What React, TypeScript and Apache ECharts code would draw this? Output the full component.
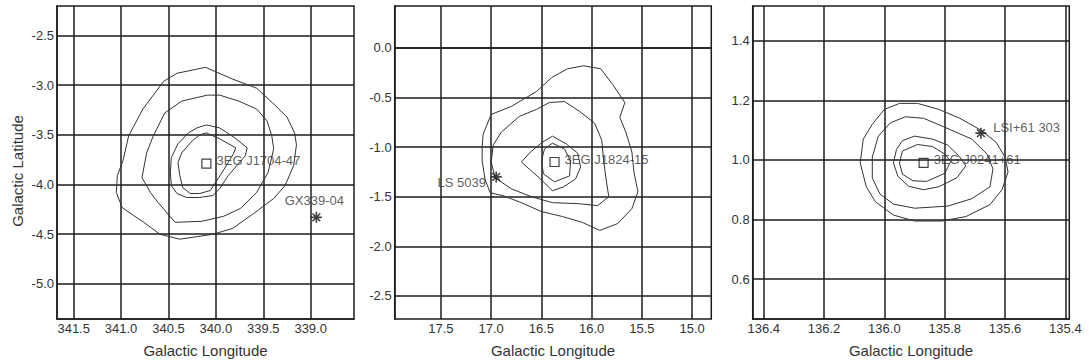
import React, { useEffect, useRef } from "react";
import * as echarts from "echarts";

// ---- axis extents (data units) ----
const p1LonRange = [338.543, 341.676];
const p1LatRange = [-5.353, -2.203];
const p2LonRange = [14.81, 17.96];
const p2LatRange = [-2.733, 0.423];
const p3LonRange = [135.387, 136.4365];
const p3LatRange = [0.466, 1.517];

// ---- tick labels ----
const p1LonTicks = [341.5, 341.0, 340.5, 340.0, 339.5, 339.0];
const p1LatTicks = [-2.5, -3.0, -3.5, -4.0, -4.5, -5.0];
const p2LonTicks = [17.5, 17.0, 16.5, 16.0, 15.5, 15.0];
const p2LatTicks = [0.0, -0.5, -1.0, -1.5, -2.0, -2.5];
const p3LonTicks = [136.4, 136.2, 136.0, 135.8, 135.6, 135.4];
const p3LatTicks = [1.4, 1.2, 1.0, 0.8, 0.6];

// ---- panel 1 contours [lon, lat] ----
const p1Contour1 = [
  [340.11, -2.82], [339.82, -2.94], [339.57, -3.03], [339.40, -3.18], [339.25, -3.32],
  [339.17, -3.48], [339.15, -3.60], [339.18, -3.81], [339.27, -4.01], [339.39, -4.14],
  [339.60, -4.29], [339.82, -4.44], [340.03, -4.50], [340.38, -4.55], [340.59, -4.50],
  [340.76, -4.38], [340.87, -4.31], [340.99, -4.23], [341.05, -4.08], [341.04, -3.91],
  [340.98, -3.76], [340.92, -3.51], [340.77, -3.24], [340.55, -2.96], [340.41, -2.88],
  [340.11, -2.82],
];
const p1Contour2 = [
  [340.09, -3.10], [340.36, -3.16], [340.54, -3.28], [340.66, -3.51], [340.73, -3.68],
  [340.78, -3.93], [340.69, -4.08], [340.61, -4.18], [340.43, -4.38], [340.15, -4.37],
  [339.92, -4.32], [339.74, -4.24], [339.57, -4.08], [339.45, -3.88], [339.39, -3.64],
  [339.41, -3.51], [339.46, -3.36], [339.57, -3.24], [339.76, -3.16], [339.96, -3.10],
  [340.09, -3.10],
];
const p1Contour3 = [
  [340.10, -3.40], [339.96, -3.43], [339.80, -3.53], [339.67, -3.63], [339.69, -3.71],
  [339.78, -3.81], [339.87, -3.91], [339.96, -4.04], [340.03, -4.11], [340.17, -4.13],
  [340.31, -4.13], [340.41, -4.09], [340.47, -4.01], [340.48, -3.88], [340.47, -3.73],
  [340.40, -3.59], [340.29, -3.48], [340.20, -3.43], [340.10, -3.40],
];
const p1Contour4 = [
  [340.10, -3.48], [339.96, -3.54], [339.79, -3.63], [339.82, -3.70], [339.89, -3.81],
  [339.97, -3.93], [340.06, -4.06], [340.17, -4.09], [340.27, -4.09], [340.35, -4.03],
  [340.38, -3.91], [340.40, -3.78], [340.36, -3.68], [340.25, -3.56], [340.17, -3.50],
  [340.10, -3.48],
];

// ---- panel 2 contours ----
const p2Contour1 = [
  [17.00, -0.67], [16.80, -0.59], [16.55, -0.44], [16.40, -0.30], [16.24, -0.21],
  [16.08, -0.18], [15.91, -0.21], [15.79, -0.37], [15.67, -0.55], [15.72, -0.70],
  [15.66, -0.85], [15.60, -1.05], [15.58, -1.25], [15.54, -1.45], [15.60, -1.62],
  [15.74, -1.77], [15.92, -1.84], [16.09, -1.76], [16.29, -1.70], [16.50, -1.65],
  [16.70, -1.56], [16.88, -1.49], [17.01, -1.46], [17.06, -1.33], [17.09, -1.14],
  [17.09, -1.00], [17.08, -0.87], [17.00, -0.67],
];
const p2Contour2 = [
  [16.98, -0.98], [16.90, -0.85], [16.72, -0.69], [16.55, -0.62], [16.42, -0.55],
  [16.27, -0.54], [16.12, -0.64], [15.97, -0.76], [15.90, -0.93], [15.88, -1.15],
  [15.85, -1.37], [15.83, -1.50], [15.94, -1.59], [16.13, -1.57], [16.39, -1.56],
  [16.60, -1.50], [16.80, -1.42], [16.96, -1.31], [17.00, -1.15], [16.98, -0.98],
];
const p2Contour3 = [
  [16.39, -0.89], [16.25, -0.97], [16.14, -1.06], [16.11, -1.20], [16.16, -1.32],
  [16.28, -1.40], [16.39, -1.44], [16.49, -1.34], [16.60, -1.24], [16.70, -1.15],
  [16.61, -1.05], [16.49, -0.95], [16.39, -0.89],
];
const p2Contour4 = [
  [16.39, -0.96], [16.27, -1.02], [16.21, -1.14], [16.22, -1.29], [16.37, -1.35],
  [16.48, -1.27], [16.50, -1.14], [16.47, -1.02], [16.39, -0.96],
];

// ---- panel 3 contours ----
const p3Contour1 = [
  [136.07, 1.07], [136.04, 1.12], [136.00, 1.17], [135.95, 1.19], [135.89, 1.19],
  [135.82, 1.17], [135.75, 1.14], [135.68, 1.10], [135.63, 1.06], [135.60, 1.01],
  [135.59, 0.96], [135.61, 0.90], [135.65, 0.85], [135.73, 0.81], [135.81, 0.795],
  [135.90, 0.795], [135.97, 0.815], [136.03, 0.86], [136.06, 0.91], [136.08, 0.99],
  [136.07, 1.07],
];
const p3Contour2 = [
  [136.04, 1.01], [136.02, 1.08], [135.98, 1.125], [135.93, 1.145], [135.87, 1.14],
  [135.80, 1.11], [135.71, 1.07], [135.66, 1.02], [135.64, 0.97], [135.65, 0.91],
  [135.71, 0.87], [135.79, 0.845], [135.90, 0.838], [135.97, 0.852], [136.015, 0.886],
  [136.04, 0.94], [136.04, 1.01],
];
const p3Contour3 = [
  [135.90, 1.08], [135.84, 1.07], [135.79, 1.05], [135.75, 1.01], [135.73, 0.98],
  [135.76, 0.94], [135.82, 0.91], [135.87, 0.90], [135.92, 0.912], [135.955, 0.945],
  [135.97, 0.99], [135.96, 1.035], [135.94, 1.065], [135.90, 1.08],
];
const p3Contour4 = [
  [135.89, 1.052], [135.84, 1.045], [135.80, 1.02], [135.78, 0.995], [135.80, 0.955],
  [135.86, 0.928], [135.905, 0.93], [135.94, 0.952], [135.95, 0.99], [135.94, 1.03],
  [135.89, 1.052],
];

// ---- sources ----
const egretNames = ["3EG J1704-47", "3EG J1824-15", "3EG J0241+61"];
const egretPositions = [
  [340.10, -3.79],
  [16.37, -1.15],
  [135.87, 0.99],
];
const counterpartNames = ["GX339-04", "LS 5039", "LSI+61 303"];
const counterpartPositions = [
  [338.94, -4.33],
  [16.95, -1.30],
  [135.68, 1.09],
];

const FONT = "Liberation Sans, Arial, sans-serif";
const GRID_COLOR = "#1c1c1c";
const TEXT_COLOR = "#333";
const STAR =
  "path://M5 0 L5 10 M0 5 L10 5 M1.5 1.5 L8.5 8.5 M1.5 8.5 L8.5 1.5";

function makeX(idx: number, range: number[], ticks: number[], showName: boolean) {
  return {
    type: "value",
    gridIndex: idx,
    min: range[0],
    max: range[1],
    inverse: true,
    splitNumber: 5,
    name: showName ? "Galactic Longitude" : "",
    nameLocation: "middle",
    nameGap: 24,
    nameTextStyle: { fontFamily: FONT, fontSize: 15, color: TEXT_COLOR },
    axisLine: { show: true, lineStyle: { color: GRID_COLOR, width: 1.5 } },
    axisTick: { show: false, customValues: ticks },
    axisLabel: {
      customValues: ticks,
      margin: 3,
      fontFamily: FONT,
      fontSize: 13,
      color: TEXT_COLOR,
      formatter: (v: number) => v.toFixed(1),
    },
    splitLine: { show: true, lineStyle: { color: GRID_COLOR, width: 1.5 } },
  };
}

function makeY(idx: number, range: number[], ticks: number[], showName: boolean) {
  return {
    type: "value",
    gridIndex: idx,
    min: range[0],
    max: range[1],
    splitNumber: 5,
    name: showName ? "Galactic Latitude" : "",
    nameLocation: "middle",
    nameGap: 32,
    nameTextStyle: {
      fontFamily: FONT,
      fontSize: 15,
      color: TEXT_COLOR,
      padding: [0, 17, 0, 0],
    },
    axisLine: { show: true, lineStyle: { color: GRID_COLOR, width: 1.5 } },
    axisTick: { show: false, customValues: ticks },
    axisLabel: {
      customValues: ticks,
      margin: 3,
      fontFamily: FONT,
      fontSize: 13,
      color: TEXT_COLOR,
      formatter: (v: number) => v.toFixed(1),
    },
    splitLine: { show: true, lineStyle: { color: GRID_COLOR, width: 1.5 } },
  };
}

function contour(idx: number, data: number[][]) {
  return {
    type: "line",
    xAxisIndex: idx,
    yAxisIndex: idx,
    data,
    showSymbol: false,
    symbol: "none",
    silent: true,
    lineStyle: { color: "#333", width: 1 },
    z: 3,
  };
}

export default function App() {
  const ref = useRef<HTMLDivElement>(null);
  useEffect(() => {
    if (!ref.current) return;
    const chart = echarts.init(ref.current, undefined, { renderer: "svg" });
    const labelStyle = { fontFamily: FONT, fontSize: 13, color: TEXT_COLOR };
    const counterpartLabel = [
      { position: "top", distance: 4, offset: [-2, 0] },
      { position: "left", distance: 4, offset: [0, 6] },
      { position: "right", distance: 6, offset: [0, -6] },
    ];
    const series: any[] = [
      contour(0, p1Contour1), contour(0, p1Contour2), contour(0, p1Contour3), contour(0, p1Contour4),
      contour(1, p2Contour1), contour(1, p2Contour2), contour(1, p2Contour3), contour(1, p2Contour4),
      contour(2, p3Contour1), contour(2, p3Contour2), contour(2, p3Contour3), contour(2, p3Contour4),
    ];
    for (let i = 0; i < 3; i++) {
      series.push({
        type: "scatter",
        xAxisIndex: i,
        yAxisIndex: i,
        symbol: "rect",
        symbolSize: 9,
        itemStyle: { color: "rgba(0,0,0,0)", borderColor: "#111", borderWidth: 1.2 },
        data: [{ value: egretPositions[i], name: egretNames[i] }],
        label: {
          show: true,
          formatter: "{b}",
          position: "right",
          distance: 5,
          offset: [0, -3],
          ...labelStyle,
        },
        z: 5,
      });
      series.push({
        type: "scatter",
        xAxisIndex: i,
        yAxisIndex: i,
        symbol: STAR,
        symbolSize: 11,
        itemStyle: { color: "rgba(0,0,0,0)", borderColor: "#111", borderWidth: 1.6 },
        data: [{ value: counterpartPositions[i], name: counterpartNames[i] }],
        label: {
          show: true,
          formatter: "{b}",
          ...counterpartLabel[i],
          ...labelStyle,
        },
        z: 5,
      });
    }
    chart.setOption({
      animation: false,
      backgroundColor: "#fff",
      grid: [
        { left: 57, top: 6, width: 297, height: 315, show: true, borderColor: GRID_COLOR, borderWidth: 1.5 },
        { left: 394.7, top: 6, width: 316.6, height: 315, show: true, borderColor: GRID_COLOR, borderWidth: 1.5 },
        { left: 752.7, top: 6, width: 316.6, height: 315, show: true, borderColor: GRID_COLOR, borderWidth: 1.5 },
      ],
      xAxis: [
        makeX(0, p1LonRange, p1LonTicks, true),
        makeX(1, p2LonRange, p2LonTicks, true),
        makeX(2, p3LonRange, p3LonTicks, true),
      ],
      yAxis: [
        makeY(0, p1LatRange, p1LatTicks, true),
        makeY(1, p2LatRange, p2LatTicks, false),
        makeY(2, p3LatRange, p3LatTicks, false),
      ],
      series,
    });
    return () => chart.dispose();
  }, []);
  return (
    <div
      ref={ref}
      style={{ position: "fixed", left: 0, top: 0, width: 1089, height: 363 }}
    />
  );
}
